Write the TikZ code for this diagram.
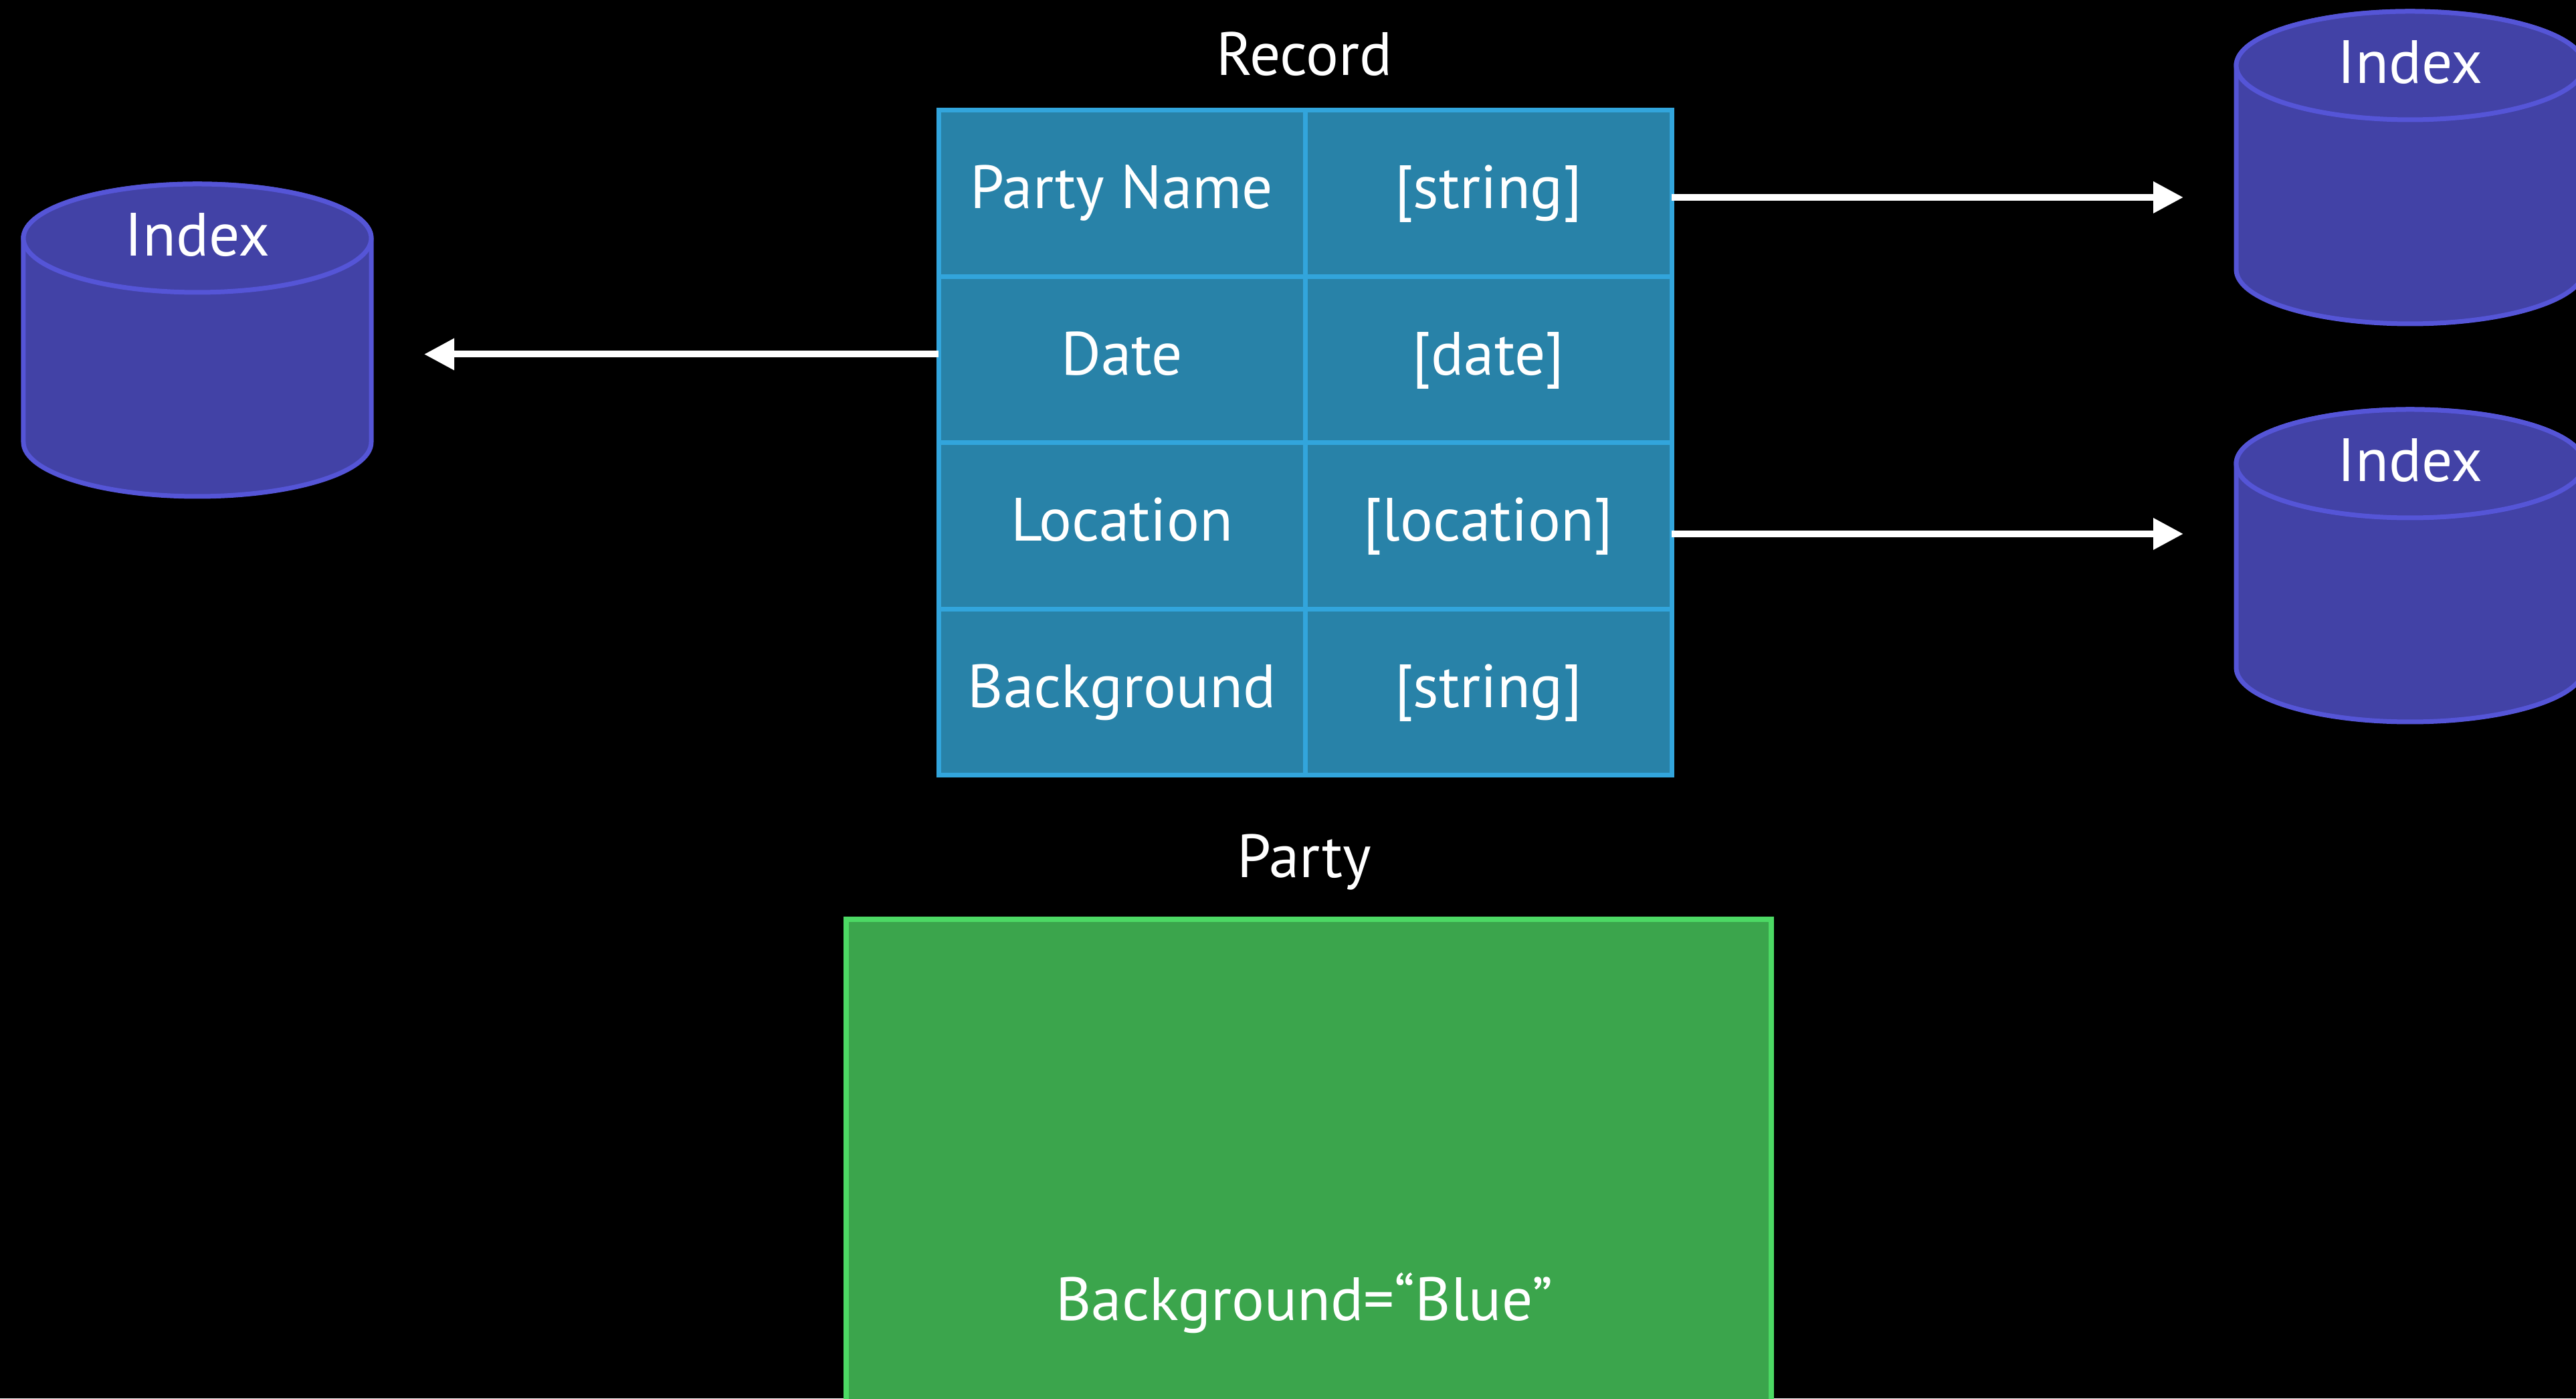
\documentclass[tikz,border=0pt]{standalone}
\usepackage{fontspec}
\setmainfont{PT Sans}
\usepackage{xcolor}
\usetikzlibrary{arrows.meta,positioning}
\definecolor{cellfill}{HTML}{2882A8}
\definecolor{cellline}{HTML}{32A5DC}
\definecolor{dbfill}{HTML}{4242A6}
\definecolor{dbline}{HTML}{5555D7}
\definecolor{partyfill}{HTML}{3BA54C}
\definecolor{partyline}{HTML}{4CD964}

\begin{document}
\begin{tikzpicture}[node distance=0pt,>=Latex,
  lbl/.style={text=white, font=\fontsize{26}{30}\selectfont, inner sep=0pt},
  cell/.style={lbl, draw=cellline, fill=cellfill, line width=0.07cm, outer sep=0pt,
    text height=0.66cm, text depth=0.2cm,
    minimum width=5.48cm, minimum height=2.485cm},
  dbase/.style={draw=dbline, fill=dbfill, line width=0.07cm},
  flow/.style={draw=white, line width=0.1cm, -{Triangle[length=0.45cm,width=0.45cm]}}]
\fill[black] (0,0) rectangle (38.51,20.90);
\useasboundingbox (0,0) rectangle (38.51,20.90);

% record table
\node (pn) [cell] at (16.77,18.01) {Party Name};
\node (pnT) [cell, right=of pn] {[string]};
\node (dt) [cell, below=of pn] {Date};
\node (dtT) [cell, right=of dt] {[date]};
\node (loc) [cell, below=of dt] {Location};
\node (locT) [cell, right=of loc] {[location]};
\node (bg) [cell, below=of loc] {Background};
\node (bgT) [cell, right=of bg] {[string]};
\node (rec) [lbl] at (19.50,20.09) {Record};

% indexes
\foreach \cx/\cy/\nm in {2.95/17.34/idxL, 36.03/19.92/idxA, 36.03/13.97/idxB}{
  \draw[dbase] (\cx-2.6,\cy) -- (\cx-2.6,\cy-3.05)
    arc[start angle=180, end angle=360, x radius=2.6, y radius=0.81]
    -- (\cx+2.6,\cy) arc[start angle=0, end angle=180, x radius=2.6, y radius=0.81] -- cycle;
  \draw[dbase] (\cx,\cy) ellipse[x radius=2.6, y radius=0.81];
  \node (\nm) [lbl] at (\cx,\cy+0.05) {Index};
}
\coordinate (tipL) at (6.34,15.62);
\coordinate (tipR) at (32.64,15.62);
\draw[flow] ([yshift=0.08cm]dt.west) -- ([yshift=0.08cm]dt.west -| tipL);
\draw[flow] ([yshift=-0.06cm]pnT.east) -- ([yshift=-0.06cm]pnT.east -| tipR);
\draw[flow] ([yshift=-0.12cm]locT.east) -- ([yshift=-0.12cm]locT.east -| tipR);

% party object
\node (party) [lbl] at (19.50,8.01) {Party};
\node (obj) [draw=partyline, fill=partyfill, line width=0.08cm, minimum width=13.83cm,
  minimum height=8cm, anchor=north] at (19.565,7.20) {};
\node (objbg) [lbl] at (19.50,1.42) {Background=“Blue”};
\end{tikzpicture}
\end{document}
